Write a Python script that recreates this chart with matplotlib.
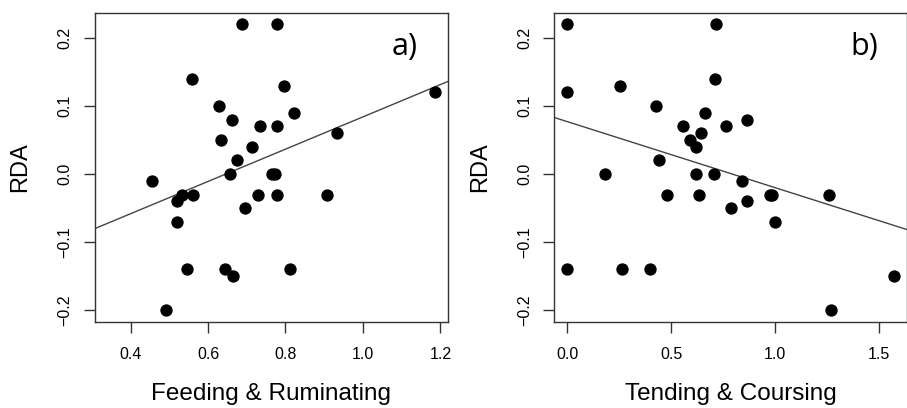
import matplotlib.pyplot as plt
import numpy as np

# panel a: Feeding & Ruminating vs RDA
feed_x = [0.689, 0.778, 0.558, 0.796, 1.186, 0.629, 0.663, 0.823, 0.734, 0.777,
          0.634, 0.932, 0.713, 0.676, 0.657, 0.765, 0.773, 0.456, 0.534, 0.562,
          0.729, 0.778, 0.908, 0.520, 0.696, 0.520, 0.546, 0.644, 0.664, 0.812, 0.491]
feed_y = [0.22, 0.22, 0.14, 0.13, 0.12, 0.10, 0.08, 0.09, 0.07, 0.07,
          0.05, 0.06, 0.04, 0.02, 0.0, 0.0, 0.0, -0.01, -0.03, -0.03,
          -0.03, -0.03, -0.03, -0.04, -0.05, -0.07, -0.14, -0.14, -0.15, -0.14, -0.20]

# panel b: Tending & Coursing vs RDA
tend_x = [0.0, 0.714, 0.0, 0.252, 0.708, 0.428, 0.662, 0.862, 0.558, 0.765,
          0.589, 0.642, 0.619, 0.439, 0.180, 0.617, 0.704, 0.839, 0.481, 0.632,
          0.975, 0.985, 1.257, 0.864, 0.785, 1.0, 0.0, 0.262, 0.396, 1.573, 1.266]
tend_y = [0.22, 0.22, 0.12, 0.13, 0.14, 0.10, 0.09, 0.08, 0.07, 0.07,
          0.05, 0.06, 0.04, 0.02, 0.0, 0.0, 0.0, -0.01, -0.03, -0.03,
          -0.03, -0.03, -0.03, -0.04, -0.05, -0.07, -0.14, -0.14, -0.14, -0.15, -0.20]

# fitted lines (intercept, slope)
feed_fit = (-0.153, 0.237)
tend_fit = (0.077, -0.097)

yticks = [-0.2, -0.1, 0.0, 0.1, 0.2]

tag_font = 'Open Sans'
text_font = 'Liberation Sans'

fig = plt.figure(figsize=(9.07, 4.08), dpi=100)
ax1 = fig.add_axes([0.1047, 0.2115, 0.3889, 0.757])
ax2 = fig.add_axes([0.6111, 0.2115, 0.3887, 0.757])

panels = [
    (ax1, feed_x, feed_y, feed_fit, 'Feeding & Ruminating', 'a)',
     (0.308, 1.219), [0.4, 0.6, 0.8, 1.0, 1.2]),
    (ax2, tend_x, tend_y, tend_fit, 'Tending & Coursing', 'b)',
     (-0.063, 1.633), [0.0, 0.5, 1.0, 1.5]),
]

for ax, xs, ys, fit, xlabel, tag, xlim, xticks in panels:
    ax.scatter(xs, ys, s=62, color='black', zorder=3)
    xx = np.array(xlim)
    ax.plot(xx, fit[0] + fit[1] * xx, color='#444444', lw=1.0)
    ax.set_xlim(xlim)
    ax.set_ylim(-0.2168, 0.2368)
    ax.set_xticks(xticks)
    ax.set_xticklabels(['%.1f' % t for t in xticks], family=text_font, fontsize=11.5)
    ax.set_yticks(yticks)
    # R style minus sign
    ax.set_yticklabels([('%.1f' % t).replace('-', '\u2212') if t != 0 else '0.0' for t in yticks],
                       family=text_font, fontsize=11.5, rotation=90, va='center')
    ax.tick_params(axis='x', length=8, width=1, pad=10, color='#333333')
    ax.tick_params(axis='y', length=8, width=1, pad=8, color='#333333')
    ax.set_xlabel(xlabel, family=text_font, fontsize=17.5, labelpad=15)
    ax.set_ylabel('RDA', family=text_font, fontsize=17, labelpad=19)
    ax.text(0.879, 0.889, tag, transform=ax.transAxes, family=tag_font,
            fontsize=22, ha='center', va='center')
    for s in ax.spines.values():
        s.set_linewidth(1.0)
        s.set_color('#333333')

fig.savefig('out.png', dpi=100)
